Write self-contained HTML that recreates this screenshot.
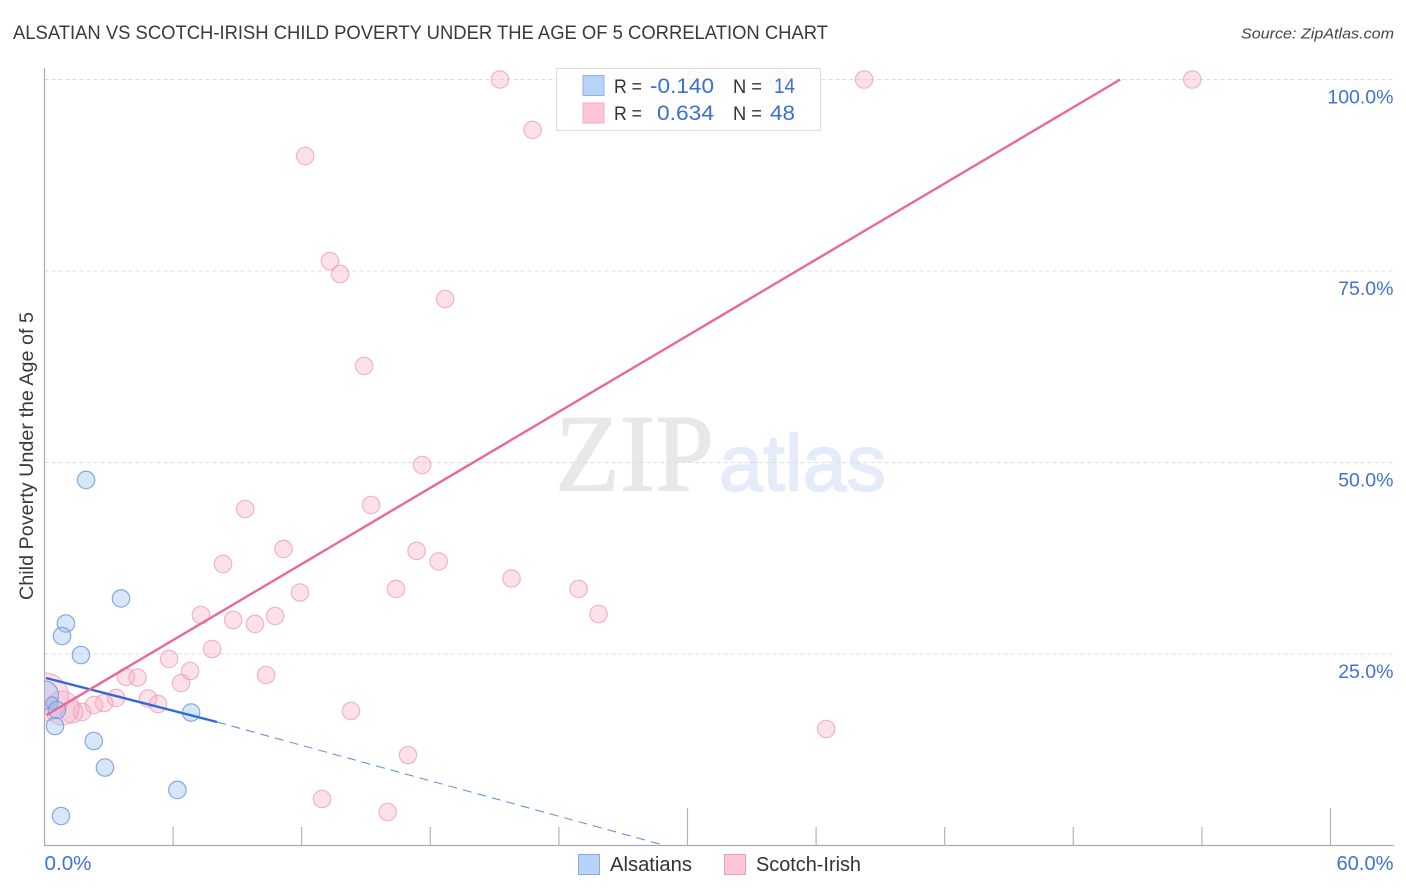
<!DOCTYPE html>
<html lang="en">
<head>
<meta charset="utf-8">
<title>Alsatian vs Scotch-Irish Child Poverty Correlation Chart</title>
<style>
html,body{margin:0;padding:0;background:#fff;}
svg{display:block;font-family:"Liberation Sans",sans-serif;}
</style>
</head>
<body>
<svg id="chart" xmlns="http://www.w3.org/2000/svg" width="1406" height="892" viewBox="0 0 1406 892">
  <defs><clipPath id="plot-clip"><rect x="44.5" y="40" width="1350" height="805.5"/></clipPath></defs>
  <rect width="1406" height="892" fill="#fff"/>
  <text x="13" y="39" font-size="19" fill="#3a3a3a" textLength="815" lengthAdjust="spacingAndGlyphs">ALSATIAN VS SCOTCH-IRISH CHILD POVERTY UNDER THE AGE OF 5 CORRELATION CHART</text>
  <text x="1394" y="38.500" font-size="15" font-style="italic" fill="#444" text-anchor="end" textLength="153" lengthAdjust="spacingAndGlyphs">Source: ZipAtlas.com</text>
  <g>
    <text x="555" y="490.500" font-family="'Liberation Serif',serif" font-size="110" fill="#e8e8e8" stroke="#e8e8e8" stroke-width="1.2" textLength="159" lengthAdjust="spacingAndGlyphs">ZIP</text>
    <text x="719" y="490.500" font-size="80" fill="#e4ecfa" stroke="#e4ecfa" stroke-width="1.6" textLength="167" lengthAdjust="spacingAndGlyphs">atlas</text>
  </g>
  <g id="grid"></g>
  <g id="axes"></g>
  <g id="points" clip-path="url(#plot-clip)"></g>
  <g id="trends"></g>
  <text transform="translate(33,456) rotate(-90)" font-size="19" fill="#3a3a3a" text-anchor="middle" textLength="288" lengthAdjust="spacingAndGlyphs">Child Poverty Under the Age of 5</text>
  <g>
    <rect x="556.500" y="68.500" width="264" height="62" fill="#fff" fill-opacity="0.84" stroke="#ddd" stroke-width="1"/>
    <rect x="583" y="75.500" width="21" height="20" fill="#b9d2f7" stroke="#8fb4e8"/>
    <rect x="583" y="103" width="21" height="20" fill="#fcc5d8" stroke="#f5a9c2"/>
    <text x="614" y="93" font-size="19" fill="#333" textLength="28" lengthAdjust="spacingAndGlyphs">R =</text>
    <text x="714" y="93" font-size="21" fill="#3a70d0" text-anchor="end" textLength="64" lengthAdjust="spacingAndGlyphs">-0.140</text>
    <text x="733" y="93" font-size="19" fill="#333" textLength="29" lengthAdjust="spacingAndGlyphs">N =</text>
    <text x="795" y="93" font-size="21" fill="#3a70d0" text-anchor="end" textLength="21" lengthAdjust="spacingAndGlyphs">14</text>
    <text x="614" y="120" font-size="19" fill="#333" textLength="28" lengthAdjust="spacingAndGlyphs">R =</text>
    <text x="714" y="120" font-size="21" fill="#3a70d0" text-anchor="end" textLength="57" lengthAdjust="spacingAndGlyphs">0.634</text>
    <text x="733" y="120" font-size="19" fill="#333" textLength="29" lengthAdjust="spacingAndGlyphs">N =</text>
    <text x="795" y="120" font-size="21" fill="#3a70d0" text-anchor="end" textLength="25" lengthAdjust="spacingAndGlyphs">48</text>
  </g>
  <g>
    <rect x="578.500" y="854.500" width="21" height="20" fill="#b9d2f7" stroke="#86ace2"/>
    <text x="610" y="871" font-size="20" fill="#333" textLength="82" lengthAdjust="spacingAndGlyphs">Alsatians</text>
    <rect x="724.500" y="854.500" width="21" height="20" fill="#fcc5d8" stroke="#ee9db8"/>
    <text x="756" y="871" font-size="20" fill="#333" textLength="105" lengthAdjust="spacingAndGlyphs">Scotch-Irish</text>
  </g>
</svg>
<script>
const alsatianX = [1.94,3.57,1.00,0.82,1.70,0,0.35,0.58,0.49,2.30,2.82,6.20,0.77,6.84];
const alsatianY = [47.72,32.25,28.98,27.35,24.87,19.65,18.60,17.69,15.60,13.64,10.18,7.25,3.85,17.36];
const alsatianWeight = [1,1,1,1,1,2.6,0.5,1,1,1,1,1,1,1];

const scotchX = [21.25,30.35,34.23,38.24,53.55,22.77,12.16,13.32,13.79,18.69,14.91,17.62,15.24,9.36,11.15,17.36,18.39,8.33,21.79,11.92,16.40,24.92,7.30,25.85,8.80,10.76,9.82,7.82,5.81,6.79,3.80,4.34,10.34,6.37,4.83,5.30,3.34,2.78,2.31,14.30,36.47,16.96,12.95,16.01,1.75,1.28,0.82,0];
const scotchY = [100,100,100,100,100,93.41,90.01,76.30,74.61,71.34,62.60,49.67,44.45,43.93,38.71,38.45,37.08,36.75,34.86,33.03,33.49,33.49,30.09,30.22,29.44,29.96,28.92,25.65,24.35,22.78,22.00,21.93,22.26,21.21,19.19,18.47,19.26,18.60,18.34,17.56,15.21,11.81,6.07,4.37,17.43,17.43,17.95,19.39];
const scotchWeight = [1,1,1,1,1,1,1,1,1,1,1,1,1,1,1,1,1,1,1,1,1,1,1,1,1,1,1,1,1,1,1,1,1,1,1,1,1,1,1,1,1,1,1,1,1,1.6,3.8,7.6];

const alsatianTrendX = [0.07,8.05];
const alsatianTrendY = [21.87,16.12];
const alsatianTrendExtX = [8.05,28.95];
const alsatianTrendExtY = [16.12,0];
const scotchTrendX = [0.1,50.19];
const scotchTrendY = [17.04,100];

const yTicks = [25,50,75,100];
const yTickLabels = ["25.0%","50.0%","75.0%","100.0%"];
const xTicks = [6,12,18,24,30,36,42,48,54,60];
const xMajorTicks = [30,60];
const xEndTicks = [0,60];
const xEndLabels = ["0.0%","60.0%"];

const NS = "http://www.w3.org/2000/svg";
const xScale = v => 44.5 + v * 21.433;
const yScale = v => 845.5 - v * 7.66;

function make(tag, attrs, parent) {
  const el = document.createElementNS(NS, tag);
  for (const k in attrs) el.setAttribute(k, attrs[k]);
  parent.appendChild(el);
  return el;
}

const grid = document.getElementById("grid");
const axes = document.getElementById("axes");
const points = document.getElementById("points");
const trends = document.getElementById("trends");

yTicks.forEach((t, i) => {
  const line = make("line", {x1: 44.5, x2: 1394, y1: yScale(t), y2: yScale(t), stroke: "#dcdcdc", "stroke-width": 1, "stroke-dasharray": "4 3"}, grid);
  
  
  const label = make("text", {x: 1393.5, y: yScale(t) + 24, "font-size": 19.5, fill: "#3f73d2", "text-anchor": "end"}, axes);
  
  
  label.textContent = yTickLabels[i];
});

const yAxis = make("line", {x1: 44.5, x2: 44.5, y1: 68, y2: 846, stroke: "#aaa", "stroke-width": 1.2}, axes);


const xAxis = make("line", {x1: 44, x2: 1394, y1: 845.5, y2: 845.5, stroke: "#aaa", "stroke-width": 1.2}, axes);



xTicks.forEach(t => {
  const top = xMajorTicks.includes(t) ? 808 : 827;
  const tick = make("line", {x1: xScale(t), x2: xScale(t), y1: top, y2: 845.5, stroke: "#b4b4b4", "stroke-width": 1.2}, axes);
  
  
});

xEndTicks.forEach((t, i) => {
  const label = make("text", {x: i === 0 ? xScale(t) : 1393.5, y: 870, "font-size": 20, fill: "#3f73d2", "text-anchor": i === 0 ? "start" : "end", textLength: i === 0 ? 47 : 57, lengthAdjust: "spacingAndGlyphs"}, axes);
  
  
  label.textContent = xEndLabels[i];
});

scotchX.forEach((v, i) => {
  const c = make("circle", {cx: xScale(v), cy: yScale(scotchY[i]), r: 8.7 * Math.sqrt(scotchWeight[i]), fill: "#f7abc4", "fill-opacity": 0.36, stroke: "#ee9db8", "stroke-opacity": 0.75, "stroke-width": 1.2}, points);
  
  
});

alsatianX.forEach((v, i) => {
  const c = make("circle", {cx: xScale(v), cy: yScale(alsatianY[i]), r: 8.7 * Math.sqrt(alsatianWeight[i]), fill: "#98bdf0", "fill-opacity": 0.38, stroke: "#6f9cdc", "stroke-opacity": 0.85, "stroke-width": 1.2}, points);
  
  
});

const ext = make("line", {x1: xScale(alsatianTrendExtX[0]), y1: yScale(alsatianTrendExtY[0]), x2: xScale(alsatianTrendExtX[1]), y2: yScale(alsatianTrendExtY[1]), stroke: "#5c8ad8", "stroke-width": 1, "stroke-dasharray": "9 6"}, trends);


const blueTrend = make("line", {x1: xScale(alsatianTrendX[0]), y1: yScale(alsatianTrendY[0]), x2: xScale(alsatianTrendX[1]), y2: yScale(alsatianTrendY[1]), stroke: "#2f6bd6", "stroke-width": 2.4}, trends);


const pinkTrend = make("line", {x1: xScale(scotchTrendX[0]), y1: yScale(scotchTrendY[0]), x2: xScale(scotchTrendX[1]), y2: yScale(scotchTrendY[1]), stroke: "#e8689a", "stroke-width": 2.4}, trends);


</script>
</body>
</html>
